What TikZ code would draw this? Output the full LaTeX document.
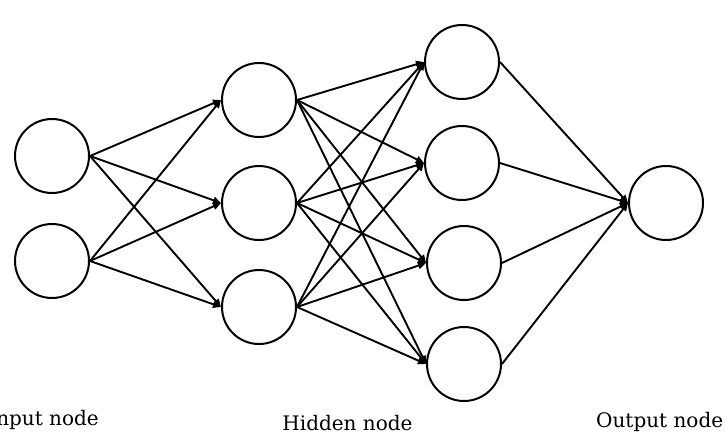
\documentclass[tikz,border=0pt]{standalone}
\usepackage{fontspec}
\setmainfont{DejaVu Serif}
\usetikzlibrary{arrows.meta}
\begin{document}
\begin{tikzpicture}[x=1pt,y=-1pt,
  neuron/.style={circle,draw,line width=2pt,minimum size=74pt,inner sep=0pt},
  conn/.style={line width=1.9pt,-{Triangle[length=8pt,width=7pt]}},
  lbl/.style={font=\fontsize{20}{23}\selectfont,inner sep=0pt}]
\useasboundingbox (0,0) rectangle (725,433);
\node[neuron] (i1) at (52,156) {};
\node[neuron] (i2) at (52,261) {};
\node[neuron] (a1) at (259,100) {};
\node[neuron] (a2) at (259,203) {};
\node[neuron] (a3) at (259,307) {};
\node[neuron] (b1) at (462,62) {};
\node[neuron] (b2) at (462,163) {};
\node[neuron] (b3) at (464,263) {};
\node[neuron] (b4) at (464,364) {};
\node[neuron] (o1) at (666,203) {};
\foreach \s in {i1,i2}
  \foreach \t in {a1,a2,a3}
    \draw[conn] (\s.east) -- (\t.west);
\foreach \s in {a1,a2,a3}
  \foreach \t in {b1,b2,b3,b4}
    \draw[conn] (\s.east) -- (\t.west);
\foreach \s in {b1,b2,b3,b4}
  \draw[conn] (\s.east) -- (o1.west);
\node[lbl,anchor=base east] (li) at (99,425) {Input node};
\node[lbl,anchor=base] (lh) at (347.5,430) {Hidden node};
\node[lbl,anchor=base west] (lo) at (596,427) {Output node};
\end{tikzpicture}
\end{document}
